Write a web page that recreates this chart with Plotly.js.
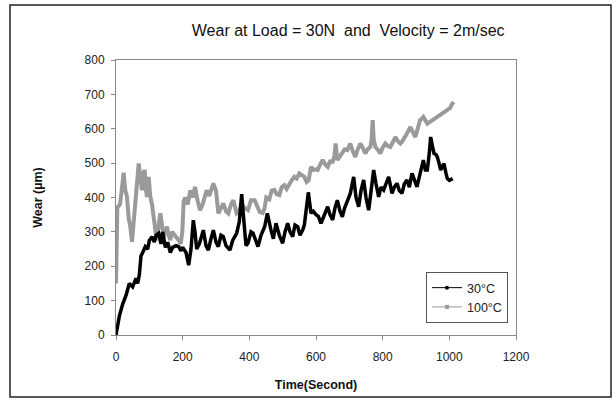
<!DOCTYPE html>
<html>
<head>
<meta charset="utf-8">
<script src="https://cdn.plot.ly/plotly-3.0.1.min.js"></script>
<style>html,body{margin:0;padding:0;background:#fff;}#chart{width:613px;height:400px;}</style>
</head>
<body>
<div id="chart"></div>
<script>
// Wear (µm) vs time (s) at 30 °C
const time30 = [0,5,10,20,30,40,50,60,65,70,75,80,88,95,100,108,115,120,128,135,140,148,155,163,170,180,188,195,200,210,218,225,232,237,242,250,262,270,277,285,292,300,307,315,322,330,342,350,362,370,377,382,390,396,405,411,420,426,435,446,454,461,465,472,480,490,500,507,515,522,530,537,545,552,560,565,570,577,585,592,600,607,615,625,635,642,650,657,664,672,679,686,694,703,713,720,728,735,743,750,758,765,773,780,788,795,803,810,818,828,835,843,850,858,865,873,880,888,895,903,910,916,922,928,934,940,944,949,954,960,964,969,974,979,984,990,994,1000,1004,1010];
const wear30 = [0,30,55,90,115,150,140,165,150,175,230,240,257,250,275,286,270,290,296,265,300,255,270,240,255,260,257,245,255,240,203,250,334,300,250,265,305,260,247,280,305,270,257,290,286,260,247,275,296,330,410,350,260,267,300,296,270,257,290,315,354,320,305,280,325,290,267,300,325,300,286,320,315,290,305,320,354,415,354,360,350,345,325,350,373,350,335,370,392,360,344,370,392,412,460,400,373,420,451,400,363,420,480,440,402,430,422,440,460,412,430,441,420,412,440,451,430,470,450,431,460,490,509,480,480,530,576,550,528,525,518,500,480,490,499,470,455,450,451,455];

// Wear (µm) vs time (s) at 100 °C
const time100 = [0,2,4,8,12,17,23,28,33,38,43,48,53,58,63,68,73,78,82,86,90,93,98,103,108,113,118,122,128,133,138,143,148,153,158,163,168,173,180,188,194,199,203,208,215,223,230,237,245,252,260,266,272,280,286,292,300,307,315,322,330,337,345,352,362,370,377,385,396,405,416,425,431,440,446,451,460,467,475,482,490,497,505,512,520,527,535,542,550,558,565,572,578,585,592,600,605,612,620,628,635,642,650,655,659,664,672,679,686,694,703,710,718,725,733,740,748,755,763,767,770,773,778,785,793,800,808,815,823,830,838,845,853,860,868,875,883,890,898,905,912,918,922,928,934,942,949,956,964,972,979,987,994,1002,1009,1013];
const wear100 = [150,300,370,375,380,420,472,420,402,340,315,271,330,392,420,499,460,421,470,480,420,402,460,402,380,334,296,276,320,354,320,285,300,315,290,276,300,295,285,276,265,300,390,400,380,421,400,431,390,363,380,400,421,405,420,441,420,354,370,383,360,354,380,392,354,360,380,370,363,392,392,370,358,355,370,400,395,420,422,410,407,430,436,425,441,450,460,455,470,465,460,445,450,489,480,482,480,495,509,495,489,505,504,520,557,509,520,528,540,538,557,535,518,540,557,545,528,540,547,570,625,570,547,540,528,545,557,550,547,560,576,565,557,565,576,590,605,590,576,600,625,630,634,625,615,620,625,630,634,640,644,650,654,660,673,678];

const seriesNames = ['30°C', '100°C'];
const xTicks = [0,200,400,600,800,1000,1200];
const yTicks = [0,100,200,300,400,500,600,700,800];

const FONT = 'Liberation Sans, Arial, sans-serif';

const traces = [
  {x: time100, y: wear100, type: 'scatter', mode: 'lines', name: seriesNames[1],
   line: {color: '#9a9a9a', width: 4}, showlegend: false},
  {x: time30, y: wear30, type: 'scatter', mode: 'lines', name: seriesNames[0],
   line: {color: '#000000', width: 3.5}, showlegend: false},
  // legend entries
  {x: [null], y: [null], type: 'scatter', mode: 'lines+markers', name: seriesNames[0],
   line: {color: '#000000', width: 1}, marker: {color: '#000000', size: 4, symbol: 'circle'}},
  {x: [null], y: [null], type: 'scatter', mode: 'lines+markers', name: seriesNames[1],
   line: {color: '#9a9a9a', width: 1}, marker: {color: '#9a9a9a', size: 4, symbol: 'square'}}
];

const layout = {
  width: 613, height: 400,
  margin: {l: 116, r: 97, t: 60, b: 65},
  paper_bgcolor: '#ffffff', plot_bgcolor: '#ffffff',
  font: {family: FONT, color: '#222222', size: 12},
  title: {text: 'Wear at Load = 30N  and  Velocity = 2m/sec', font: {family: FONT, size: 16, color: '#111'},
          xref: 'container', x: 0.568, xanchor: 'center', yref: 'container', y: 0.925, yanchor: 'middle'},
  xaxis: {range: [0, 1200], tickvals: xTicks, ticktext: xTicks.map(String),
          showgrid: false, zeroline: false, showline: true, linecolor: '#888', linewidth: 1, mirror: true,
          ticks: 'outside', ticklen: 4, tickcolor: '#888', ticklabelstandoff: 7,
          tickfont: {family: FONT, size: 12, color: '#222'},
          title: {text: '<b>Time(Second)</b>', font: {family: FONT, size: 12.5, color: '#111'}, standoff: 16}},
  yaxis: {range: [0, 800], tickvals: yTicks, ticktext: yTicks.map(String),
          showgrid: false, zeroline: false, showline: true, linecolor: '#888', linewidth: 1, mirror: true,
          ticks: 'outside', ticklen: 4, tickcolor: '#888', ticklabelstandoff: 4,
          tickfont: {family: FONT, size: 12, color: '#222'},
          title: {text: '<b>Wear (µm)</b>', font: {family: FONT, size: 12.5, color: '#111'}, standoff: 39}},
  legend: {x: 0.775, y: 0.229, xanchor: 'left', yanchor: 'top', bgcolor: '#fff',
           bordercolor: '#555', borderwidth: 1, font: {family: FONT, size: 12.5, color: '#222'}},
  shapes: [{type: 'rect', xref: 'paper', yref: 'paper', x0: -0.265, x1: 1.2375, y0: -0.2255, y1: 1.2,
            line: {color: '#222', width: 1.5}, fillcolor: 'rgba(0,0,0,0)', layer: 'above'}]
};

Plotly.newPlot('chart', traces, layout, {displayModeBar: false, staticPlot: true});
</script>
</body>
</html>
